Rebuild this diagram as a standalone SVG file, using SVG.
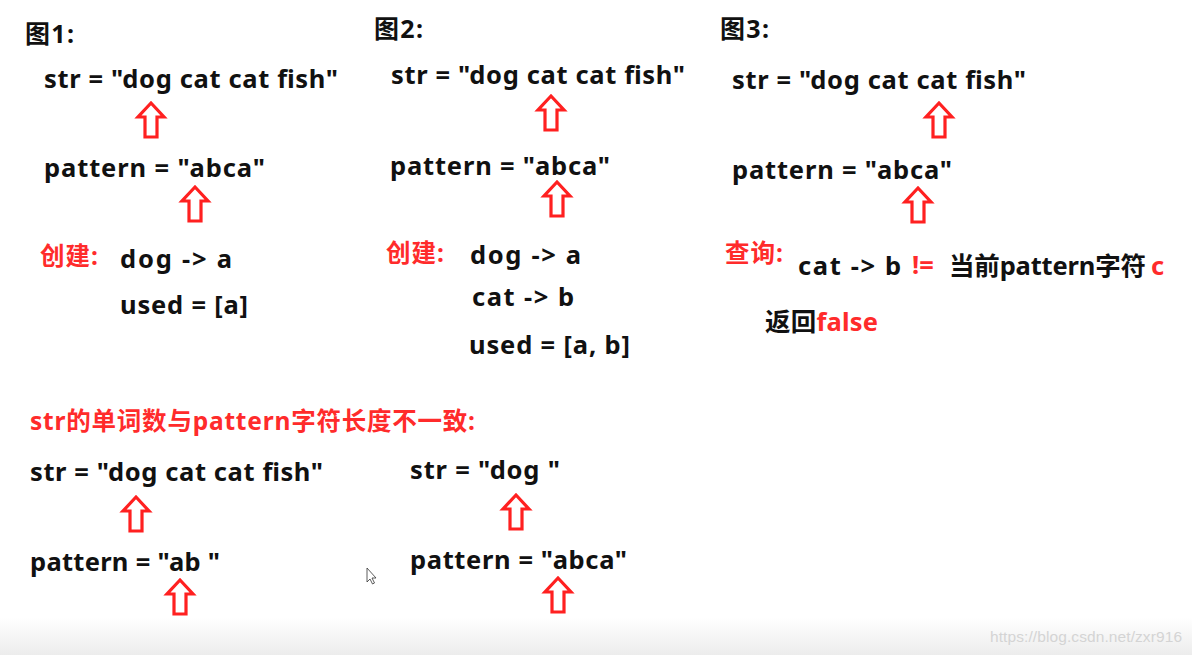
<svg xmlns="http://www.w3.org/2000/svg" width="1192" height="655" viewBox="0 0 1192 655">
<defs>
<style>
text{font-family:"Noto Sans","Noto Sans CJK SC",sans-serif;font-weight:bold;fill:#111;}
.t{font-size:25px;}
.h{font-size:24.5px;}
.m{font-size:25.5px;}
.r{fill:#ff2b2b;}
.wm{font-family:"Liberation Sans",Arial,sans-serif;font-weight:normal;font-size:15.5px;fill:#d4d4d4;}
.arr{fill:#fff;stroke:#ff2020;stroke-width:3.2;stroke-linejoin:miter;}
</style>
<path id="up" class="arr" d="M0,0 L13,14 L6,14 L6,34 L-6,34 L-6,14 L-13,14 Z"/>
<linearGradient id="bg" x1="0" y1="0" x2="0" y2="1">
<stop offset="0" stop-color="#ffffff"/>
<stop offset="1" stop-color="#ececec"/>
</linearGradient>
</defs>
<rect width="1192" height="655" fill="#fff"/>
<rect y="618" width="1192" height="37" fill="url(#bg)"/>

<g id="panel1">
<text class="t" x="25" y="43" textLength="49">图1:</text>
<text class="m" x="44" y="88" textLength="294">str = "dog cat cat fish"</text>
<use href="#up" x="151" y="103"/>
<text class="m" x="44" y="177" textLength="221">pattern = "abca"</text>
<use href="#up" x="195" y="187"/>
<text class="h r" x="40" y="265" textLength="58">创建:</text>
<text class="m" x="120" y="268" textLength="112">dog -&gt; a</text>
<text class="m" x="120" y="314" textLength="128">used = [a]</text>
</g>

<g id="panel2">
<text class="t" x="374" y="38" textLength="49">图2:</text>
<text class="m" x="391" y="84" textLength="294">str = "dog cat cat fish"</text>
<use href="#up" x="551" y="96"/>
<text class="m" x="390" y="175" textLength="220">pattern = "abca"</text>
<use href="#up" x="557" y="182"/>
<text class="h r" x="386" y="262" textLength="58">创建:</text>
<text class="m" x="470" y="264" textLength="111">dog -&gt; a</text>
<text class="m" x="472" y="306" textLength="102">cat -&gt; b</text>
<text class="m" x="469" y="354" textLength="161">used = [a, b]</text>
</g>

<g id="panel3">
<text class="t" x="720" y="38" textLength="49">图3:</text>
<text class="m" x="732" y="89" textLength="294">str = "dog cat cat fish"</text>
<use href="#up" x="939" y="103"/>
<text class="m" x="732" y="179" textLength="220">pattern = "abca"</text>
<use href="#up" x="918" y="188"/>
<text class="h r" x="725" y="262" textLength="58">查询:</text>
<text class="m" x="798" y="275" textLength="103">cat -&gt; b</text>
<text class="m r" x="912" y="274">!=</text>
<text class="m" x="949" y="275" textLength="197">当前pattern字符</text>
<text class="m r" x="1151" y="275">c</text>
<text class="m" x="765" y="331" textLength="113">返回<tspan class="r">false</tspan></text>
</g>

<g id="bottom-left">
<text class="h r" x="30" y="430" textLength="445">str的单词数与pattern字符长度不一致:</text>
<text class="m" x="30" y="481" textLength="293">str = "dog cat cat fish"</text>
<use href="#up" x="136" y="497"/>
<text class="m" x="30" y="571" textLength="190">pattern = "ab "</text>
<use href="#up" x="180" y="580"/>
</g>

<g id="bottom-right">
<text class="m" x="410" y="479" textLength="150">str = "dog "</text>
<use href="#up" x="516" y="495"/>
<text class="m" x="410" y="569" textLength="217">pattern = "abca"</text>
<use href="#up" x="558" y="578"/>
</g>

<g id="cursor">
<path d="M367,568 L367,582 L370,579 L372.5,584 L374.5,583 L372,578 L376,578 Z" fill="#fff" stroke="#333" stroke-width="0.8"/>
</g>

<text class="wm" x="990" y="642" textLength="192">https://blog.csdn.net/zxr916</text>
</svg>
